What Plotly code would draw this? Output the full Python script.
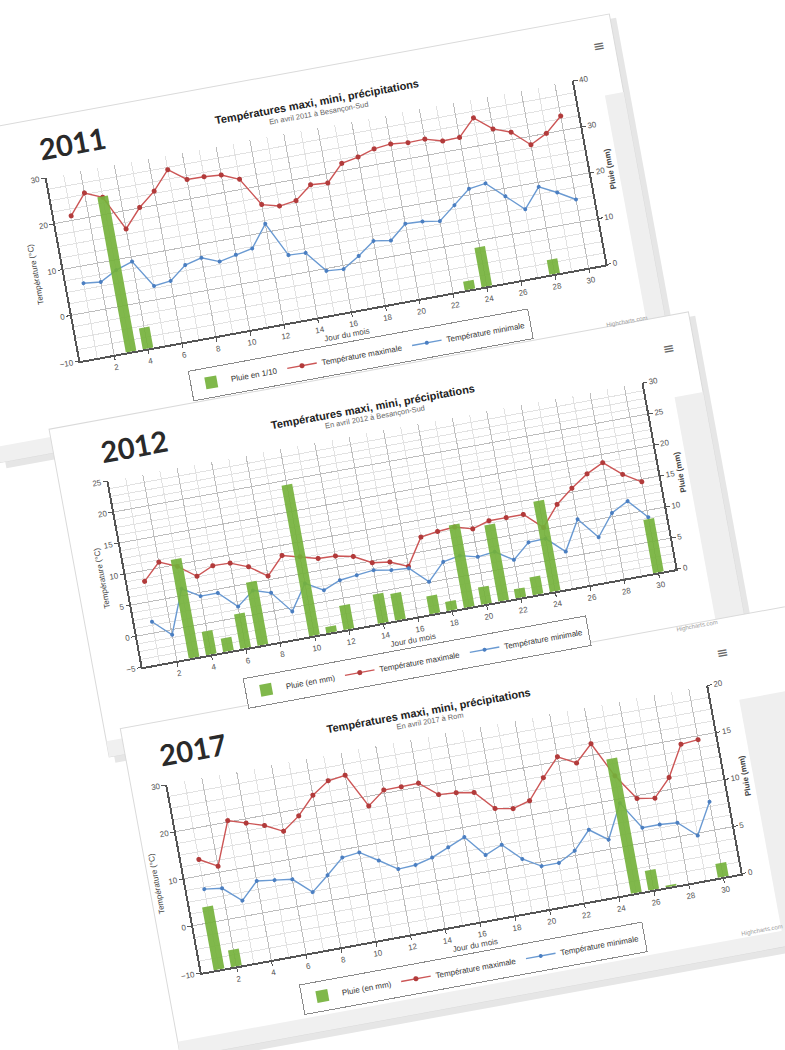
import plotly.graph_objects as go

W, H = 785, 1050
ROT_DEG = -10.4

# ---------------- data ----------------
days = list(range(1, 31))
x_tick_vals = list(range(2, 31, 2))

years = ["2011", "2012", "2017"]
chart_title = "Températures maxi, mini, précipitations"
subtitles = ["En avril 2011 à Besançon-Sud", "En avril 2012 à Besançon-Sud", "En avril 2017 à Rom"]
rain_names = ["Pluie en 1/10", "Pluie (en mm)", "Pluie (en mm)"]
tmax_name = "Température maximale"
tmin_name = "Température minimale"
x_title = "Jour du mois"
temp_title = "Température (°C)"
rain_title = "Pluie (mm)"

tmax_2011 = [21.0, 25.3, 23.7, 16.1, 20.1, 23.0, 27.0, 24.2, 24.1, 23.8, 22.2, 16.0, 15.0, 15.5, 18.3,
             18.0, 21.6, 22.3, 23.4, 23.8, 23.4, 23.5, 22.4, 22.5, 26.1, 23.0, 21.6, 18.2, 20.0, 23.1]
tmin_2011 = [6.3, 5.9, 7.8, 9.0, 3.0, 3.4, 6.2, 7.1, 5.6, 6.4, 7.1, 11.8, 4.3, 4.1, -0.5,
             -0.8, 1.4, 4.0, 3.4, 6.4, 6.2, 5.6, 8.4, 11.3, 11.8, 8.3, 4.8, 9.0, 7.1, 4.9]
rain_2011 = [0, 0, 33.9, 4.6, 0, 0, 0, 0, 0, 0, 0, 0, 0, 0, 0,
             0, 0, 0, 0, 0, 0, 0, 1.9, 8.6, 0, 0, 0, 3.2, 0, 0]

tmax_2012 = [8.3, 10.9, 9.7, 7.6, 8.8, 8.7, 7.6, 5.6, 8.4, 7.7, 6.9, 6.8, 6.2, 4.7, 4.3,
             3.1, 7.3, 7.7, 7.9, 7.1, 7.9, 7.9, 7.9, 5.3, 8.5, 10.6, 12.4, 13.7, 11.3, 9.6]
tmin_2012 = [1.8, -0.8, 6.1, 4.4, 4.4, 1.7, 3.8, 2.9, -0.6, 3.4, 1.8, 2.9, 3.2, 3.5, 3.0,
             2.8, 0.1, 2.8, 3.3, 2.6, 2.9, 1.1, 3.4, 3.5, 0.9, 5.6, 2.2, 5.6, 7.0, 3.9]
rain_2012 = [0, 0, 15.9, 3.8, 2.2, 5.6, 10.2, 0, 0, 24.3, 1.0, 3.9, 0, 4.7, 4.3,
             0, 2.9, 1.5, 13.3, 2.8, 12.3, 1.5, 2.9, 14.6, 0, 0, 0, 0, 0, 8.6]

tmax_2017 = [13.4, 11.3, 20.3, 19.1, 17.9, 16.0, 18.6, 22.3, 24.7, 25.2, 18.0, 20.7, 20.7, 20.8, 17.7,
             17.4, 16.8, 12.7, 12.0, 13.0, 17.2, 21.0, 19.0, 22.4, 14.9, 9.4, 8.8, 12.5, 18.9, 19.2]
tmin_2017 = [7.1, 6.6, 3.3, 6.8, 6.3, 5.8, 2.4, 5.3, 8.4, 8.8, 6.4, 3.9, 4.1, 5.0, 6.5,
             8.0, 3.5, 5.0, 1.3, -0.9, -0.9, 1.0, 4.8, 2.0, 9.1, 3.2, 3.2, 2.9, -0.5, 6.0]
rain_2017 = [6.7, 1.8, 0, 0, 0, 0, 0, 0, 0, 0, 0, 0, 0, 0, 0,
             0, 0, 0, 0, 0, 0, 0, 0, 0, 14.3, 2.1, 0.2, 0, 0, 1.5]

temp_ranges = [[-10, 30], [-5, 25], [-10, 30]]
temp_dticks = [10, 5, 10]
rain_ranges = [[0, 40], [0, 30], [0, 20]]
rain_dticks = [10, 5, 5]

tmax_all = [tmax_2011, tmax_2012, tmax_2017]
tmin_all = [tmin_2011, tmin_2012, tmin_2017]
rain_all = [rain_2011, rain_2012, rain_2017]

# ---------------- layout geometry (px, before page rotation) ----------------
plot_boxes = [(115, 649, 118, 306), (121, 663, 430, 621), (124, 672, 742, 935)]
panel_boxes = [(18, 698, 58, 392), (72, 722, 368, 704), (88, 800, 678, 1015)]
icon_dx = [33, 33, 22]

GREEN = "#76b23c"
RED_LINE = "#cc5656"
RED_MARK = "#b23b3b"
BLUE_LINE = "#6a9ad2"
BLUE_MARK = "#4b7fc2"
GRID = "#bdbdbd"
GRID_MINOR = "#e2e2e2"
AXIS = "#555555"
FONT = "Liberation Sans"
TICKFONT = dict(family=FONT, size=8, color="#555555")


def px(x):
    return x / W


def py(y):
    return 1 - y / H


fig = go.Figure()
layout = dict(
    width=W, height=H,
    margin=dict(l=0, r=0, t=0, b=0),
    paper_bgcolor="white",
    plot_bgcolor="white",
    showlegend=True,
    font=dict(family=FONT, color="#333333"),
)
annotations = []
shapes = []

for i in range(3):
    L, R, T, B = plot_boxes[i]
    PL, PR, PT, PB = panel_boxes[i]
    xid = "x" if i == 0 else f"x{i + 1}"
    yl = "y" if i == 0 else f"y{2 * i + 1}"
    yr = f"y{2 * i + 2}"
    xkey = "xaxis" if i == 0 else f"xaxis{i + 1}"
    ylkey = "yaxis" if i == 0 else f"yaxis{2 * i + 1}"
    yrkey = f"yaxis{2 * i + 2}"
    legkey = "legend" if i == 0 else f"legend{i + 1}"

    # screenshot panel with a soft shadow and light grey right/bottom edges
    shapes.append(dict(type="rect", xref="paper", yref="paper", layer="below",
                       x0=px(PL + 5), x1=px(PR + 6), y0=py(PB + 7), y1=py(PT + 5),
                       fillcolor="#e6e6e6", line=dict(width=0)))
    shapes.append(dict(type="rect", xref="paper", yref="paper", layer="below",
                       x0=px(PL), x1=px(PR), y0=py(PB), y1=py(PT),
                       fillcolor="white", line=dict(color="#dadada", width=1)))
    shapes.append(dict(type="rect", xref="paper", yref="paper", layer="below",
                       x0=px(R + 30), x1=px(PR), y0=py(PB), y1=py(T + 20),
                       fillcolor="#efefef", line=dict(width=0)))
    shapes.append(dict(type="rect", xref="paper", yref="paper", layer="below",
                       x0=px(PL), x1=px(PR), y0=py(PB), y1=py(PB - 16),
                       fillcolor="#f0f0f0", line=dict(width=0)))

    fig.add_trace(go.Bar(
        x=days, y=rain_all[i], name=rain_names[i], xaxis=xid, yaxis=yr, legend=legkey,
        marker=dict(color=GREEN, line=dict(width=0)), width=0.62, opacity=0.92,
    ))
    fig.add_trace(go.Scatter(
        x=days, y=tmax_all[i], name=tmax_name, mode="lines+markers", xaxis=xid, yaxis=yl,
        legend=legkey, line=dict(color=RED_LINE, width=1.4),
        marker=dict(symbol="circle", size=5, color=RED_MARK),
    ))
    fig.add_trace(go.Scatter(
        x=days, y=tmin_all[i], name=tmin_name, mode="lines+markers", xaxis=xid, yaxis=yl,
        legend=legkey, line=dict(color=BLUE_LINE, width=1.4),
        marker=dict(symbol="circle", size=4, color=BLUE_MARK),
    ))

    layout[xkey] = dict(
        domain=[px(L), px(R)], anchor=yl, range=[0, 31],
        tickmode="array", tickvals=x_tick_vals,
        showgrid=True, gridcolor=GRID, gridwidth=1,
        minor=dict(tickmode="array", tickvals=days, showgrid=True, gridcolor=GRID_MINOR),
        showline=True, linecolor=AXIS, linewidth=1.5,
        ticks="outside", ticklen=4, tickcolor=AXIS, tickfont=TICKFONT,
        zeroline=False,
        title=dict(text=x_title, font=dict(family=FONT, size=8, color="#444"), standoff=3),
    )
    layout[ylkey] = dict(
        domain=[py(B), py(T)], anchor=xid, range=temp_ranges[i],
        tick0=0, dtick=temp_dticks[i],
        showgrid=True, gridcolor=GRID, gridwidth=1,
        minor=dict(dtick=temp_dticks[i] / 4, showgrid=True, gridcolor=GRID_MINOR),
        showline=True, linecolor=AXIS, linewidth=1.5,
        ticks="outside", ticklen=4, tickcolor=AXIS, tickfont=TICKFONT,
        zeroline=False,
        title=dict(text=temp_title, font=dict(family=FONT, size=8, color="#444"), standoff=3),
    )
    layout[yrkey] = dict(
        overlaying=yl, side="right", anchor=xid, range=rain_ranges[i],
        tick0=0, dtick=rain_dticks[i], showgrid=False,
        showline=True, linecolor=AXIS, linewidth=1.5,
        ticks="outside", ticklen=4, tickcolor=AXIS, tickfont=TICKFONT,
        zeroline=False,
        title=dict(text="<b>" + rain_title + "</b>", font=dict(family=FONT, size=8, color="#444"),
                   standoff=3),
    )
    layout[legkey] = dict(
        orientation="h", x=px(392), xanchor="center", y=py(B + 45), yanchor="middle",
        bordercolor="#8a8a8a", borderwidth=1, bgcolor="white",
        font=dict(family=FONT, size=8, color="#333"),
        itemwidth=30, tracegroupgap=0,
    )

    annotations += [
        dict(x=px(L - 4), y=py(T - 30), xref="paper", yref="paper", showarrow=False,
             xanchor="left", yanchor="middle", text=years[i],
             font=dict(family="Lato", size=29, color="#2a2a2a", weight=700)),
        dict(x=px(394), y=py(T - 26), xref="paper", yref="paper", showarrow=False,
             xanchor="center", yanchor="middle", text="<b>" + chart_title + "</b>",
             font=dict(family=FONT, size=11, color="#222")),
        dict(x=px(394), y=py(T - 15), xref="paper", yref="paper", showarrow=False,
             xanchor="center", yanchor="middle", text=subtitles[i],
             font=dict(family=FONT, size=7.5, color="#666")),
        dict(x=px(R + icon_dx[i]), y=py(T - 30), xref="paper", yref="paper", showarrow=False,
             xanchor="center", yanchor="middle", text="≡",
             font=dict(family="DejaVu Sans", size=14, color="#666")),
        dict(x=px(R + 34), y=py(B + 60), xref="paper", yref="paper", showarrow=False,
             xanchor="right", yanchor="middle", text="Highcharts.com",
             font=dict(family=FONT, size=6, color="#9a9a9a")),
    ]

layout["annotations"] = annotations
layout["shapes"] = shapes
fig.update_layout(**layout)

post = (
    "var gd=document.getElementById('{plot_id}');"
    "gd.style.transformOrigin='50% 50%';"
    "gd.style.transform='rotate(" + str(ROT_DEG) + "deg)';"
    "document.documentElement.style.overflow='hidden';"
    "document.body.style.margin='0';"
    "document.body.style.overflow='hidden';"
)

fig.write_html("out.html", include_plotlyjs=True, post_script=post,
               config={"displayModeBar": False})
